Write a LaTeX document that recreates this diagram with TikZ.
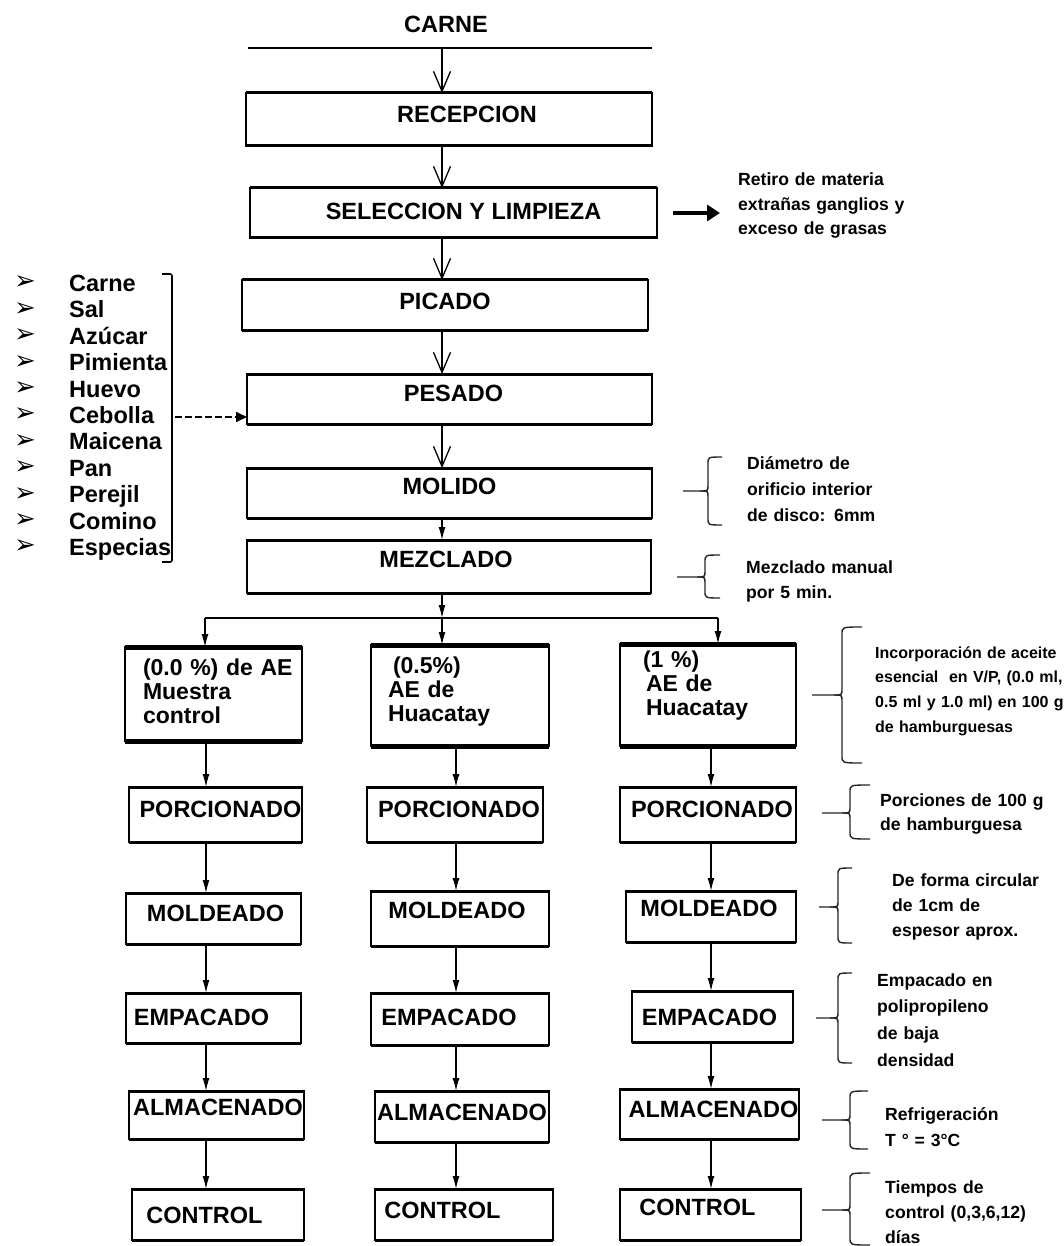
\documentclass[tikz,border=0pt]{standalone}
\usepackage{fontspec}
\setmainfont{Liberation Sans}
\newfontfamily\dejavu{DejaVu Sans}
\usetikzlibrary{arrows.meta,calc}
\newcommand\fbig{\bfseries\fontsize{23.5pt}{24pt}\selectfont}
\newcommand\fae{\bfseries\fontsize{23pt}{24pt}\selectfont\lineskiplimit=-30pt\relax}
\newcommand\fnote[2]{\bfseries\fontsize{#1pt}{#2pt}\selectfont\lineskiplimit=-30pt\relax}
\newcommand\aein[1]{\hspace*{#1pt}}
\newcommand\mybrace[6]{%
  \draw[brc] (#1,#3) .. controls (#2,#3) .. (#2,#3+7) -- (#2,#5-6) .. controls (#2,#5) .. (#2-8,#5) -- (#6,#5);
  \draw[brc] (#1,#4) .. controls (#2,#4) .. (#2,#4-7) -- (#2,#5+6) .. controls (#2,#5) .. (#2-8,#5);}
\begin{document}
\begin{tikzpicture}[x=1pt,y=-1pt,
  box/.style={draw, line width=1.8pt, inner sep=0pt, outer sep=0pt, font=\fbig, text height=17pt, text depth=#1pt},
  box/.default=8,
  tx/.style={execute at begin node={\hspace*{#1pt}}},
  aebox/.style={draw, line width=2.5pt, inner sep=0pt, outer sep=0pt, align=left, font=\fae, text height=17pt},
  va/.style={line width=1.3pt, -{Straight Barb[length=20pt,width=17pt]}},
  la/.style={line width=1.3pt, -{Latex[length=13pt,width=7pt]}},
  note/.style={anchor=base west, inner sep=0pt, text width=220pt, align=left},
  brc/.style={line width=1.4pt, draw=black!85},
  ing/.style={anchor=west, inner sep=0pt, font=\fbig, text height=17pt, text depth=0pt},
  bul/.style={inner sep=0pt, font=\dejavu\fontsize{26pt}{26pt}\selectfont}
]
\fill[white] (0,0) rectangle (1063,1246);
\useasboundingbox (0,0) rectangle (1063,1246);

% title
\node[font=\fbig, inner sep=0pt] (carne) at (446,24) {CARNE};
\draw[line width=2pt] (248,48) -- (652,48);
\coordinate (cl) at (442,48);
\coordinate (cm) at (442,0);

% main column
\node[box=10, tx=36, minimum width=406pt, minimum height=53pt] (rec) at (449,119.5) {RECEPCION};
\node[box=4, tx=20, minimum width=407pt, minimum height=50pt] (sel) at (453.5,213) {SELECCION Y LIMPIEZA};
\node[box=8, minimum width=406pt, minimum height=50pt] (pic) at (445,305) {PICADO};
\node[box=12, tx=8, minimum width=405pt, minimum height=50pt] (pes) at (449.5,399) {PESADO};
\node[box=14, minimum width=405pt, minimum height=50pt] (mol) at (449.5,493) {MOLIDO};
\node[box=15, tx=-6, minimum width=404pt, minimum height=53pt] (mez) at (449,566.5) {MEZCLADO};

% AE boxes
\node[aebox, text width=177pt, minimum width=177pt, minimum height=94pt, text depth=55pt] (ae1) at (213.5,694)
  {\aein{18}(0.0 \%) de AE\\\aein{18}Muestra\\\aein{18}control};
\node[aebox, text width=178pt, minimum width=178pt, minimum height=101pt, text depth=62pt] (ae2) at (460,695.5)
  {\aein{22}(0.5\%)\\\aein{17}AE de\\\aein{17}Huacatay};
\node[aebox, text width=176pt, minimum width=176pt, minimum height=102pt, text depth=73pt] (ae3) at (708,695)
  {\aein{23}(1 \%)\\\aein{26}AE de\\\aein{26}Huacatay};

% rows
\node[box=11, tx=10, minimum width=173pt, minimum height=55pt] (por1) at (215.5,814.5) {PORCIONADO};
\node[box=11, tx=8, minimum width=176pt, minimum height=55pt] (por2) at (455,814.5) {PORCIONADO};
\node[box=11, tx=8, minimum width=176pt, minimum height=55pt] (por3) at (708,814.5) {PORCIONADO};
\node[box=11, tx=4, minimum width=175pt, minimum height=51pt] (mol1) at (213.5,918.5) {MOLDEADO};
\node[box=17, tx=-6, minimum width=178pt, minimum height=55pt] (mol2) at (460,918.5) {MOLDEADO};
\node[box=17, tx=-4, minimum width=170pt, minimum height=51pt] (mol3) at (711,916.5) {MOLDEADO};
\node[box=2, tx=-24, minimum width=175pt, minimum height=50pt] (emp1) at (213.5,1018) {EMPACADO};
\node[box=4, tx=-22, minimum width=178pt, minimum height=52pt] (emp2) at (460,1019) {EMPACADO};
\node[box=0, tx=-6, minimum width=161pt, minimum height=51pt] (emp3) at (712.5,1016.5) {EMPACADO};
\node[box=16, tx=3, minimum width=175pt, minimum height=48pt] (alm1) at (216.5,1115) {ALMACENADO};
\node[box=9, minimum width=174pt, minimum height=51pt] (alm2) at (462,1116.5) {ALMACENADO};
\node[box=10, tx=8, minimum width=179pt, minimum height=50pt] (alm3) at (709.5,1114) {ALMACENADO};
\node[box=0, tx=-27, minimum width=172pt, minimum height=51pt] (con1) at (218,1214.5) {CONTROL};
\node[box=10, tx=-43, minimum width=178pt, minimum height=51pt] (con2) at (464,1214.5) {CONTROL};
\node[box=16, tx=-26, minimum width=181pt, minimum height=51pt] (con3) at (710.5,1214.5) {CONTROL};

% thicker top/bottom edges
\foreach \n in {rec,sel,pic,pes,mol,mez,por1,por2,por3,mol1,mol2,mol3,emp1,emp2,emp3,alm1,alm2,alm3,con1,con2,con3}
  \draw[line width=3pt] (\n.north west) -- (\n.north east) (\n.south west) -- (\n.south east);
\foreach \n in {ae1,ae2,ae3}
  \draw[line width=5pt] (\n.north west) -- (\n.north east) (\n.south west) -- (\n.south east);

% main arrows
\draw[va] (cl) -- (rec.north -| cl);
\draw[va] (rec.south -| cm) -- (sel.north -| cm);
\draw[va] (sel.south -| cm) -- (pic.north -| cm);
\draw[va] (pic.south -| cm) -- (pes.north -| cm);
\draw[va] (pes.south -| cm) -- (mol.north -| cm);
\draw[la] (mol.south -| cm) -- (mez.north -| cm);

% branching
\coordinate (br1) at (205,618);
\coordinate (br2) at (442,618);
\coordinate (br3) at (718,618);
\draw[la] (mez.south -| br2) -- (br2);
\draw[line width=1.5pt] (br1) -- (br3);
\draw[la] (br1) -- (ae1.north -| br1);
\draw[la] (br2) -- (ae2.north -| br2);
\draw[la] (br3) -- (ae3.north -| br3);

% column arrows
\coordinate (c1) at (206,0);
\coordinate (c2) at (456,0);
\coordinate (c3) at (711,0);
\foreach \a/\b in {ae/por, por/mol, mol/emp, emp/alm, alm/con}{
  \draw[la] (\a1.south -| c1) -- (\b1.north -| c1);
  \draw[la] (\a2.south -| c2) -- (\b2.north -| c2);
  \draw[la] (\a3.south -| c3) -- (\b3.north -| c3);
}

% side arrow
\draw[line width=3.5pt, -{Triangle[length=13pt,width=16pt]}] ([xshift=16pt]sel.east) -- ([xshift=63pt]sel.east);

% ingredients
\foreach \t [count=\i from 0] in {Carne,Sal,Azúcar,Pimienta,Huevo,Cebolla,Maicena,Pan,Perejil,Comino,Especias}{
  \node[ing] (in\i) at (69,283+26.4*\i) {\t};
  \node[bul] (bu\i) at (25,283+26.4*\i) {➢};
}
\draw[line width=1.6pt, rounded corners=2pt] (162,274) -- (172,274) -- (172,562) -- (162,562);
\coordinate (brk) at (175,417);
\draw[line width=2pt, dash pattern=on 7pt off 3pt, -{Triangle[length=11pt,width=10pt]}] (brk) -- (pes.west |- brk);

% notes
\node[note, font=\fnote{17.6}{24.5}] (nret) at (738,186) {Retiro de materia\\extrañas ganglios y\\exceso de grasas};
\node[note, font=\fnote{17.6}{26}] (ndia) at (747,469) {Diámetro de\\orificio interior\\de disco: 6mm};
\node[note, font=\fnote{17.6}{25}] (nmez) at (746,573) {Mezclado manual\\por 5 min.};
\node[note, font=\fnote{16}{24.7}] (ninc) at (875,658) {Incorporación de aceite\\esencial\ \ en V/P, (0.0 ml,\\0.5 ml y 1.0 ml) en 100 g\\de hamburguesas};
\node[note, font=\fnote{17.6}{24}] (npor) at (880,806) {Porciones de 100 g\\de hamburguesa};
\node[note, font=\fnote{17.6}{25}] (nfor) at (892,886) {De forma circular\\de 1cm de\\espesor aprox.};
\node[note, font=\fnote{17.6}{26.7}] (nemp) at (877,986) {Empacado en\\polipropileno\\de baja\\densidad};
\node[note, font=\fnote{17.6}{26}] (nref) at (885,1120) {Refrigeración\\T ° = 3°C};
\node[note, font=\fnote{17.6}{25}] (ntie) at (885,1193) {Tiempos de\\control (0,3,6,12)\\días};

% braces
\mybrace{722}{708}{457}{525}{491}{683}
\mybrace{720}{705}{555}{598}{577}{677}
\mybrace{862}{842}{627}{763}{695}{812}
\mybrace{870}{850}{785}{839}{813}{822}
\mybrace{852}{838}{868}{943}{907}{819}
\mybrace{852}{838}{973}{1063}{1018}{816}
\mybrace{868}{850}{1091}{1149}{1120}{822}
\mybrace{870}{850}{1173}{1245}{1210}{822}
\end{tikzpicture}
\end{document}
